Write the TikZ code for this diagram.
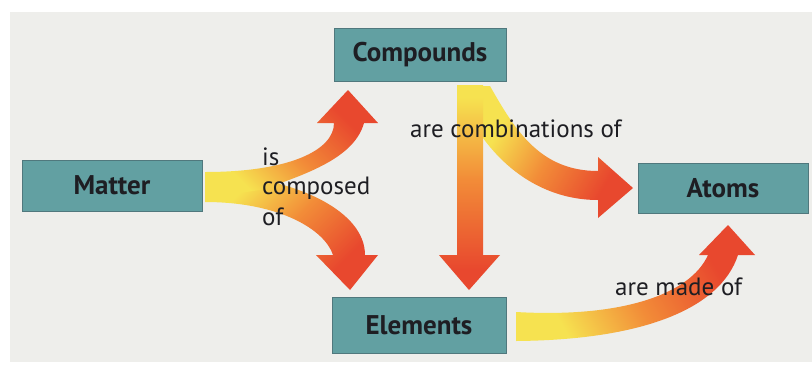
\documentclass[tikz,border=0pt]{standalone}
\usepackage{fontspec}
\setmainfont{PT Sans}
\definecolor{bgpaper}{RGB}{238,238,235}
\definecolor{boxteal}{RGB}{98,160,162}
\definecolor{boxedge}{RGB}{80,120,125}
\definecolor{ryellow}{RGB}{246,226,80}
\definecolor{rorange}{RGB}{242,140,56}
\definecolor{rred}{RGB}{232,72,46}
\definecolor{inkc}{RGB}{30,30,35}
\pgfdeclareverticalshading{ribbonshade}{100bp}{color(0bp)=(rred); color(30bp)=(rred); color(52bp)=(rorange); color(72bp)=(ryellow); color(100bp)=(ryellow)}
\tikzset{
  conceptbox/.style={draw=boxedge, line width=0.8pt, fill=boxteal, inner sep=0pt,
    font=\fontsize{27}{30}\selectfont\bfseries, text=inkc},
  linklabel/.style={font=\fontsize{25}{28}\selectfont, text=inkc, inner sep=0pt},
  ribbon/.style={draw=none, shading=ribbonshade}
}
\begin{document}
\begin{tikzpicture}[x=1pt,y=-1pt]
\useasboundingbox (0,0) rectangle (812,365);
\fill[bgpaper] (10,12) rectangle (812,362);

% concept boxes
\node[conceptbox, minimum width=172pt, minimum height=53pt] (compounds) at (420,54.5) {Compounds};
\node[conceptbox, minimum width=180pt, minimum height=51pt] (matter) at (112,185.5) {Matter};
\node[conceptbox, minimum width=174pt, minimum height=56pt] (elements) at (419,325) {Elements};
\node[conceptbox, minimum width=170pt, minimum height=50pt] (atoms) at (723,188) {Atoms};

% Matter -> Elements
\shade[ribbon, shading angle=45]
  (205,172) .. controls (300,178) and (365,212) .. (365,255)
  -- (378,255) -- (350,290) -- (316,255) -- (333,255)
  .. controls (325,230) and (280,202) .. (205,202) -- cycle;
% Matter -> Compounds
\shade[ribbon, shading angle=135]
  (205,172) .. controls (290,172) and (334,150) .. (334,123)
  -- (317,123) -- (348,90) -- (378,123) -- (364,123)
  .. controls (355,155) and (315,172) .. (260,190) -- (205,198) -- cycle;

% Compounds -> Atoms
\shade[ribbon, shading angle=60]
  (483,86) -- (490,86) .. controls (515,130) and (540,171) .. (598,171)
  -- (598,157) -- (633,188) -- (598,218) -- (598,200)
  .. controls (550,200) and (510,175) .. (483,138) -- cycle;
% Compounds -> Elements
\shade[ribbon]
  (457,85) -- (483,85) -- (483,255) -- (500,255) -- (469,290) -- (439,255) -- (457,255) -- cycle;

% Elements -> Atoms
\shade[ribbon, shading angle=120]
  (516,312) .. controls (620,318) and (690,295) .. (708,255)
  -- (699,255) -- (728,225) -- (755,255) -- (738,255)
  .. controls (720,310) and (640,340) .. (516,341) -- cycle;

% link labels
\node[linklabel, anchor=base west] (lis) at (262,165) {is};
\node[linklabel, anchor=base west] (lcomposed) at (262,194) {composed};
\node[linklabel, anchor=base west] (lof) at (262,225) {of};
\node[linklabel, anchor=base west] (lcomb) at (410,137) {are combinations of};
\node[linklabel, anchor=base west] (lmade) at (615,295) {are made of};
\end{tikzpicture}
\end{document}
